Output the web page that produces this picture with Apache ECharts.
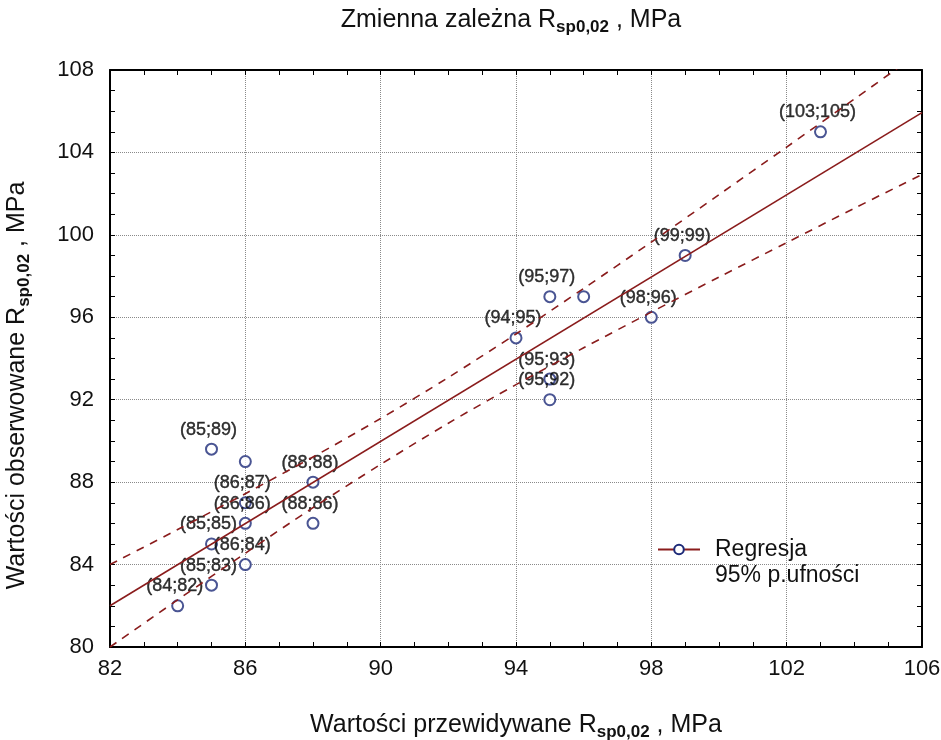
<!DOCTYPE html>
<html>
<head>
<meta charset="utf-8">
<script src="https://cdn.jsdelivr.net/npm/echarts@6/dist/echarts.min.js"></script>
<style>
  html, body { margin: 0; padding: 0; background: #fff; }
  #chart { width: 941px; height: 740px; }
</style>
</head>
<body>
<div id="chart"></div>
<script>
const predicted = [84, 85, 86, 85, 86, 86, 85, 86, 88, 88, 94, 95, 96, 95, 95, 98, 99, 103]
const observed = [82, 83, 84, 85, 86, 87, 89.6, 89, 88, 86, 95, 97, 97, 93, 92, 96, 99, 105]
const pointLabels = ['(84;82)', '(85;83)', '(86;84)', '(85;85)', '(86;86)', '(86;87)', '(85;89)', '',
  '(88;88)', '(88;86)', '(94;95)', '(95;97)', '', '(95;93)', '(95;92)', '(98;96)', '(99;99)', '(103;105)']

// regression line end points
const regX = [82, 106]
const regY = [82.0, 105.93]

// 95% confidence band
const bandX = [82, 84, 86, 88, 90, 92, 94, 96, 98, 100, 102, 104, 106]
const bandUpper = [84.0, 85.7, 87.44, 89.22, 91.09, 93.08, 95.19, 97.4, 99.65, 101.95, 104.26, 106.59, 108.93]
const bandLower = [80.0, 82.29, 84.55, 86.76, 88.86, 90.86, 92.73, 94.52, 96.25, 97.95, 99.62, 101.29, 102.93]

const xTicks = { min: 82, max: 106, step: 4 }
const yTicks = { min: 80, max: 108, step: 4 }

const font = 'Liberation Sans, Arial, sans-serif'
const red = '#8a1c1c'
const navy = '#1d2a78'

const zip = (a, b) => a.map((v, i) => [v, b[i]])

const nameRich = {
  a: { fontSize: 25, fontFamily: font, color: '#111', fontWeight: 'normal' },
  s: { fontSize: 17, fontFamily: font, color: '#111', fontWeight: 'bold', padding: [14, 0, 0, 0] }
}

const baseAxis = (t) => ({
  type: 'value',
  min: t.min,
  max: t.max,
  interval: t.step,
  axisLine: { show: true, onZero: false, lineStyle: { color: '#000', width: 2 } },
  axisTick: { show: true, inside: true, length: 5, lineStyle: { color: '#000' } },
  minorTick: { show: true, splitNumber: 4, length: 5, lineStyle: { color: '#000' } }
})

const chart = echarts.init(document.getElementById('chart'))

const option = {
  backgroundColor: '#fff',
  animation: false,
  title: {
    text: '{a|Zmienna zależna R}{s|sp0,02}{a| , MPa}',
    left: 506,
    textAlign: 'center',
    top: 0,
    textStyle: { fontWeight: 'normal', rich: nameRich }
  },
  grid: { left: 110, right: 19, top: 70, bottom: 93, containLabel: false, outerBoundsMode: 'none' },
  legend: {
    left: 652,
    top: 533,
    orient: 'vertical',
    itemWidth: 42,
    itemHeight: 12,
    itemGap: 3,
    textStyle: { fontSize: 23, fontFamily: font, color: '#111', padding: [0, 0, 0, 10] },
    data: [
      { name: 'Regresja' },
      { name: '95% p.ufności', icon: 'none' }
    ]
  },
  xAxis: [
    Object.assign(baseAxis(xTicks), {
      position: 'bottom',
      axisLabel: { fontSize: 22, fontFamily: font, color: '#111', margin: 11 },
      splitLine: { show: true, lineStyle: { type: 'dotted', color: '#8a8a8a' } },
      name: '{a|Wartości przewidywane R}{s|sp0,02}{a| , MPa}',
      nameLocation: 'middle',
      nameGap: 63,
      nameTextStyle: { rich: nameRich }
    }),
    Object.assign(baseAxis(xTicks), {
      position: 'top',
      axisLabel: { show: false },
      splitLine: { show: false }
    })
  ],
  yAxis: [
    Object.assign(baseAxis(yTicks), {
      position: 'left',
      axisLabel: { fontSize: 22, fontFamily: font, color: '#111', margin: 16 },
      splitLine: { show: true, lineStyle: { type: 'dotted', color: '#8a8a8a' } },
      name: '{a|Wartości obserwowane R}{s|sp0,02}{a| , MPa}',
      nameLocation: 'middle',
      nameGap: 77,
      nameTextStyle: { rich: nameRich, padding: [0, 54, 0, 0] }
    }),
    Object.assign(baseAxis(yTicks), {
      position: 'right',
      axisLabel: { show: false },
      splitLine: { show: false }
    })
  ],
  series: [
    {
      name: '95% p.ufności',
      type: 'line',
      data: zip(bandX, bandUpper),
      smooth: 0.3,
      showSymbol: false,
      symbol: 'none',
      clip: true,
      lineStyle: { color: red, width: 1.6, type: [8, 7] },
      itemStyle: { color: red }
    },
    {
      name: '95% p.ufności',
      type: 'line',
      data: zip(bandX, bandLower),
      smooth: 0.3,
      showSymbol: false,
      symbol: 'none',
      clip: true,
      lineStyle: { color: red, width: 1.6, type: [8, 7] },
      itemStyle: { color: red }
    },
    {
      name: 'Regresja',
      type: 'line',
      data: zip(regX, regY),
      symbol: 'emptyCircle',
      symbolSize: 11,
      showSymbol: false,
      clip: true,
      lineStyle: { color: red, width: 1.6 },
      itemStyle: { color: navy, borderWidth: 1.8 }
    },
    {
      name: 'Obserwacje',
      type: 'scatter',
      data: zip(predicted, observed),
      symbol: 'emptyCircle',
      symbolSize: 11,
      itemStyle: { color: navy, borderWidth: 1.6 },
      label: {
        show: true,
        position: 'top',
        distance: 4,
        offset: [-3, 0],
        fontSize: 18,
        fontFamily: font,
        color: '#000',
        textBorderColor: '#000',
        textBorderWidth: 0.4,
        formatter: (p) => pointLabels[p.dataIndex]
      }
    }
  ]
}

chart.setOption(option)
window.addEventListener('resize', () => chart.resize())
</script>
</body>
</html>
